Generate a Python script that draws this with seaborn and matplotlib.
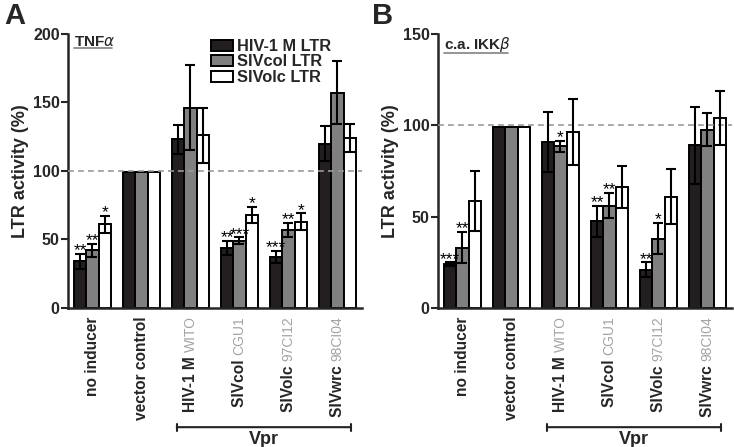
import pandas as pd
import matplotlib
matplotlib.use("Agg")
import matplotlib.pyplot as plt
import seaborn as sns

# categories
groups = ["no inducer", "vector control", "HIV-1 M WITO", "SIVcol CGU1", "SIVolc 97CI12", "SIVwrc 98CI04"]
label_main = ["no inducer", "vector control", "HIV-1 M ", "SIVcol ", "SIVolc ", "SIVwrc "]
label_strain = ["", "", "WITO", "CGU1", "97CI12", "98CI04"]
series = ["HIV-1 M LTR", "SIVcol LTR", "SIVolc LTR"]

# panel A: TNFalpha
tnf_hiv = [34, 99, 123, 44, 37, 120]
tnf_hiv_err = [5.5, 0, 10.5, 5, 4.5, 13]
tnf_col = [42, 99, 146, 49, 57, 157]
tnf_col_err = [5, 0, 31, 2.5, 5, 23]
tnf_olc = [61, 99, 126, 68, 63, 124]
tnf_olc_err = [6, 0, 20, 6, 6, 10]
tnf_hiv_sig = ["**", "", "", "**", "***", ""]
tnf_col_sig = ["**", "", "", "***", "**", ""]
tnf_olc_sig = ["*", "", "", "*", "*", ""]

# panel B: c.a. IKKbeta
ikk_hiv = [24, 99, 91, 47.5, 21, 89]
ikk_hiv_err = [1, 0, 16.5, 8.5, 4, 21]
ikk_col = [33, 99, 88.5, 56, 38, 97.5]
ikk_col_err = [8.5, 0, 3, 7, 8.5, 9]
ikk_olc = [58.5, 99, 96.5, 66, 61, 104]
ikk_olc_err = [16.5, 0, 18, 11.5, 15, 15]
ikk_hiv_sig = ["***", "", "", "**", "**", ""]
ikk_col_sig = ["**", "", "*", "**", "*", ""]
ikk_olc_sig = ["", "", "", "", "", ""]

colors = ["#231f20", "#808080", "#ffffff"]
light = "#a3a3a3"

sns.set_style("ticks")
plt.rcParams["font.family"] = ["Liberation Sans", "DejaVu Sans"]
plt.rcParams["mathtext.fontset"] = "dejavusans"

fig = plt.figure(figsize=(7.34, 4.47), dpi=100)
axA = fig.add_axes([0.0926, 0.311, 0.4005, 0.613])
axB = fig.add_axes([0.5967, 0.311, 0.4005, 0.613])


def draw_panel(ax, vals, errs, sigs, ymax, yticks, title, legend):
    df = pd.DataFrame({
        "group": groups * 3,
        "series": [s for s in series for _ in groups],
        "value": vals[0] + vals[1] + vals[2],
    })
    sns.barplot(data=df, x="group", y="value", hue="series", order=groups,
                hue_order=series, palette=colors, edgecolor="black",
                linewidth=1.4, width=0.75, errorbar=None, ax=ax,
                legend=legend, saturation=1)
    ax.axhline(100, color="#9a9a9a", ls=(0, (3.5, 2.5)), lw=1.2, zorder=3)
    bars = list(ax.containers[:3])
    for cont, err, sig in zip(bars, errs, sigs):
        for bar, e, s in zip(cont, err, sig):
            x = bar.get_x() + bar.get_width() / 2
            y = bar.get_height()
            if e > 0:
                ax.errorbar(x, y, yerr=e, color="black", lw=1.5, capsize=3.5,
                            capthick=1.5, zorder=4)
            if s:
                ax.annotate(s, xy=(x, y + e), xytext=(0, -1),
                            textcoords="offset points", ha="center",
                            va="baseline", fontsize=12.5, color="black",
                            zorder=6, annotation_clip=False)
    ax.set_xlim(-0.5, 5.5)
    ax.set_ylim(0, ymax)
    ax.set_yticks(yticks)
    ax.set_yticklabels([str(t) for t in yticks], fontweight="bold", fontsize=11.5)
    ax.set_xticks(range(len(groups)))
    ax.set_xticklabels([])
    ax.tick_params(axis="x", length=0)
    ax.tick_params(axis="y", length=5, width=1.5, pad=1)
    ax.set_xlabel("")
    ax.set_ylabel("LTR activity (%)", fontweight="bold", fontsize=13, labelpad=3)
    sns.despine(ax=ax)
    for sp in ["left", "bottom"]:
        ax.spines[sp].set_linewidth(1.8)

    # tick labels: bold name + grey strain
    for i in range(len(groups)):
        if label_strain[i]:
            t = ax.annotate(label_strain[i], xy=(i, 0), xycoords=ax.get_xaxis_transform(),
                            xytext=(0, -6), textcoords="offset points", rotation=90,
                            ha="center", va="top", color=light, fontsize=10)
            ax.annotate(label_main[i], xy=(0.5, 0), xycoords=t, rotation=90,
                        ha="center", va="top", fontweight="bold", fontsize=11.2)
        else:
            ax.annotate(label_main[i], xy=(i, 0), xycoords=ax.get_xaxis_transform(),
                        xytext=(0, -6), textcoords="offset points", rotation=90,
                        ha="center", va="top", fontweight="bold", fontsize=11.2)

    # Vpr bracket
    tr = ax.get_xaxis_transform()
    ax.annotate("", xy=(1.72, -0.435), xytext=(5.27, -0.435), xycoords=tr,
                arrowprops=dict(arrowstyle="|-|, widthA=0.25, widthB=0.25",
                                lw=1.5, color="#222222", shrinkA=0, shrinkB=0),
                annotation_clip=False)
    ax.text((1.72 + 5.27) / 2, -0.448, "Vpr", transform=tr, ha="center", va="top",
            fontweight="bold", fontsize=13)

    # underlined panel title
    ttl = ax.text(0.02, 0.995, title, transform=ax.transAxes, ha="left", va="top",
                  fontweight="bold", fontsize=11)
    fig.canvas.draw()
    bb = ttl.get_window_extent().transformed(ax.transAxes.inverted())
    ax.plot([bb.x0, bb.x1 - 0.01], [bb.y0 + 0.004, bb.y0 + 0.004], transform=ax.transAxes,
            color="#8c8c8c", lw=1.3, clip_on=False)

    if legend:
        ax.legend(frameon=False, loc="upper left", bbox_to_anchor=(0.465, 1.005),
                  prop=dict(weight="bold", size=11.8), handlelength=1.3,
                  handleheight=0.65, labelspacing=0.02, handletextpad=0.3,
                  borderaxespad=0, title=None)


draw_panel(axA, [tnf_hiv, tnf_col, tnf_olc], [tnf_hiv_err, tnf_col_err, tnf_olc_err],
           [tnf_hiv_sig, tnf_col_sig, tnf_olc_sig], 200, [0, 50, 100, 150, 200],
           r"TNF$\alpha$", True)
draw_panel(axB, [ikk_hiv, ikk_col, ikk_olc], [ikk_hiv_err, ikk_col_err, ikk_olc_err],
           [ikk_hiv_sig, ikk_col_sig, ikk_olc_sig], 150, [0, 50, 100, 150],
           r"c.a. IKK$\beta$", False)

fig.text(0.006, 0.995, "A", fontsize=21, fontweight="bold", ha="left", va="top")
fig.text(0.507, 0.995, "B", fontsize=21, fontweight="bold", ha="left", va="top")

fig.savefig("out.png", dpi=100)
